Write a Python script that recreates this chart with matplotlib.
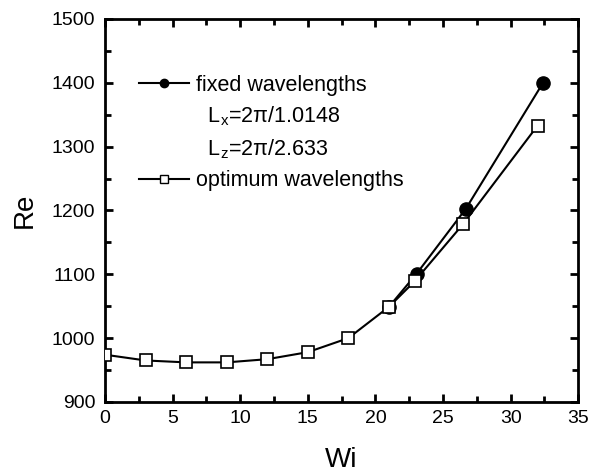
import numpy as np
import matplotlib.pyplot as plt
from matplotlib.lines import Line2D

plt.rcParams['font.family'] = ['Liberation Sans', 'DejaVu Sans']
plt.rcParams['mathtext.fontset'] = 'custom'
plt.rcParams['mathtext.rm'] = 'Liberation Sans'
plt.rcParams['mathtext.it'] = 'Liberation Sans'

# data
wi_opt = [0, 3, 6, 9, 12, 15, 18, 21, 22.9, 26.5, 32.0]
re_opt = [974, 965, 962, 962, 967, 978, 1000, 1049, 1089, 1179, 1333]
wi_fixed = [21, 23.05, 26.7, 32.4]
re_fixed = [1049, 1101, 1203, 1400]

fig = plt.figure(figsize=(5.9, 4.74), dpi=100)
ax = fig.add_axes([0.178, 0.152, 0.802, 0.808])

ax.plot(wi_fixed, re_fixed, '-', color='black', lw=1.5, marker='o',
        ms=9.5, mfc='black', mec='black', zorder=2)
ax.plot(wi_opt, re_opt, '-', color='black', lw=1.5, marker='s',
        ms=8.5, mfc='white', mec='black', mew=1.2, zorder=3)

ax.set_xlim(0, 35)
ax.set_ylim(900, 1500)
ax.set_xticks(np.arange(0, 36, 5))
ax.set_xticks(np.arange(0, 35, 2.5), minor=True)
ax.set_yticks(np.arange(900, 1501, 100))
ax.set_yticks(np.arange(900, 1500, 50), minor=True)
ax.tick_params(which='both', direction='in', top=True, right=True,
               width=2, labelsize=14)
ax.tick_params(which='major', length=6)
ax.tick_params(which='minor', length=4)
ax.tick_params(axis='y', pad=7)
ax.tick_params(axis='x', pad=6)
for s in ax.spines.values():
    s.set_linewidth(2)

ax.set_xlabel('Wi', fontsize=20, labelpad=14)
ax.set_ylabel('Re', fontsize=20, labelpad=10)

blank = Line2D([], [], color='none')
handles = [
    Line2D([], [], color='black', lw=1.5, marker='o', ms=6, mfc='black'),
    blank, blank,
    Line2D([], [], color='black', lw=1.5, marker='s', ms=5.5, mfc='white', mew=1),
]
labels = ['fixed wavelengths', '  L$_\\mathrm{x}$=2\u03c0/1.0148',
          '  L$_\\mathrm{z}$=2\u03c0/2.633', 'optimum wavelengths']
ax.legend(handles, labels, loc='upper left', bbox_to_anchor=(0.031, 0.905),
          frameon=False, fontsize=15.5, handlelength=2.3, handletextpad=0.33,
          labelspacing=0.42)

fig.savefig('out.png', dpi=100)
